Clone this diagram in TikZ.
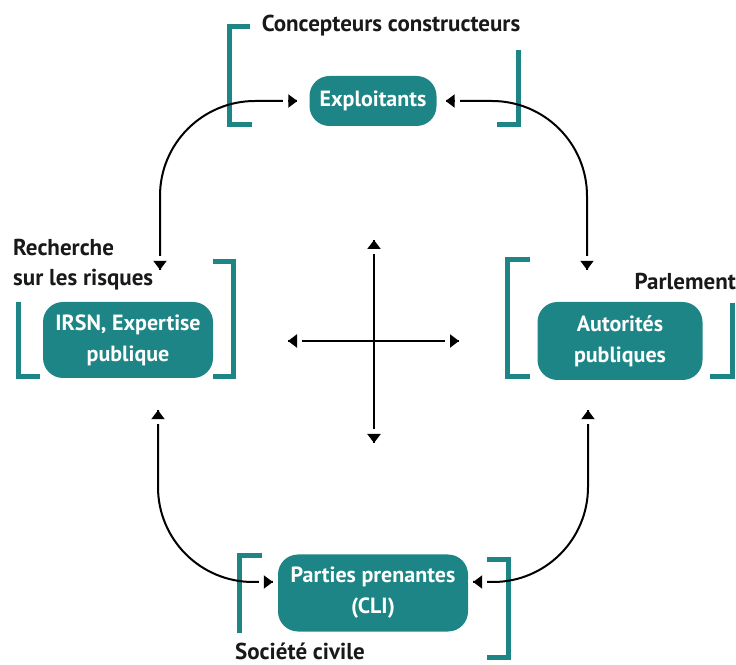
\documentclass[tikz,border=0pt]{standalone}
\usepackage{fontspec}
\setmainfont{PT Sans}
\usetikzlibrary{arrows.meta, positioning}
\definecolor{irsnteal}{RGB}{29, 133, 133}
\tikzset{gaptip/.tip={Rectangle[length=5pt, width=3pt, white, sep=0pt] Triangle[length=9pt, width=13pt, sep=0pt] Rectangle[length=5pt, width=3pt, white, sep=0pt]}}

\begin{document}
\begin{tikzpicture}[
    x=1pt, y=1pt,
    actor/.style={rectangle, rounded corners=20pt, fill=irsnteal, text=white, align=center, font=\fontsize{22}{31}\selectfont\bfseries, inner sep=0pt},
    label/.style={font=\fontsize{23}{30}\selectfont\bfseries, text=black!90, inner sep=0pt},
    bracket/.style={draw=irsnteal, line width=5pt},
    link/.style={gaptip-gaptip, line width=2pt, rounded corners=95pt},
    axis/.style={gaptip-gaptip, line width=2pt}
]
\useasboundingbox (0,0) rectangle (736,664);

% acteurs
\node[actor, minimum width=127pt, minimum height=50pt] (expl) at (373,563) {Exploitants};
\node[actor, minimum width=170pt, minimum height=76pt] (irsn) at (128,324) {IRSN, Expertise\\publique};
\node[actor, minimum width=165pt, minimum height=78pt] (auto) at (620,323) {Autorités\\publiques};
\node[actor, minimum width=190pt, minimum height=77pt] (pp) at (373,71) {Parties prenantes\\(CLI)};

% textes
\node[label] (conc) at (391,638) {Concepteurs constructeurs};
\node[label, anchor=west, align=left] (rech) at (13,399) {Recherche\\sur les risques};
\node[label, anchor=east] (parl) at (736,382) {Parlement};
\node[label, anchor=base west] (soc) at (235,5) {Société civile};

% crochets
\draw[bracket] (250,637) -- (229,637) -- (229,539) -- (252,539);
\draw[bracket] (518,614) -- (518,539) -- (497,539);
\draw[bracket] (18,362) -- (18,287) -- (40,287);
\draw[bracket] (213,402) -- (233,402) -- (233,287) -- (213,287);
\draw[bracket] (530,404) -- (507,404) -- (507,287) -- (530,287);
\draw[bracket] (732,361) -- (732,287) -- (710,287);
\draw[bracket] (262,108) -- (239,108) -- (239,31);
\draw[bracket] (487,104) -- (508,104) -- (508,7) -- (487,7);

% liens
\draw[link, shorten <=27pt, shorten >=7pt] ([xshift=32pt]irsn.north) |- (expl.west);
\draw[link, shorten <=4pt, shorten >=27pt] (expl.east) -| ([xshift=-33pt]auto.north);
\draw[link, shorten <=27pt, shorten >=0pt] ([xshift=30pt]irsn.south) |- ([yshift=11pt]pp.west);
\draw[link, shorten <=25pt, shorten >=0pt] ([xshift=-32pt]auto.south) |- ([yshift=11pt]pp.east);

% croix
\coordinate (up) at (374,429);
\coordinate (down) at (374,216);
\coordinate (left) at (283,323);
\coordinate (right) at (464,323);
\draw[axis] (up) -- (down);
\draw[axis] (left) -- (right);
\end{tikzpicture}
\end{document}
